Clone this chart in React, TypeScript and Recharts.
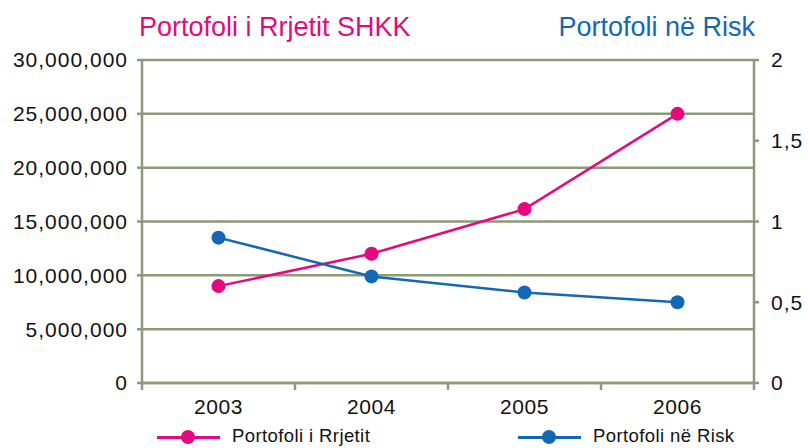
import React from 'react';
import { LineChart, Line, XAxis, YAxis, CartesianGrid } from 'recharts';

const years = ['2003', '2004', '2005', '2006'];
const portfoliRrjetit = [9000000, 12000000, 16150000, 25000000];
const portfoliRisk = [0.9, 0.66, 0.56, 0.5];
const leftTicks = [0, 5000000, 10000000, 15000000, 20000000, 25000000, 30000000];
const rightTicks = [0, 0.5, 1, 1.5, 2];

const data = years.map((year, i) => ({
  year,
  rrjetit: portfoliRrjetit[i],
  risk: portfoliRisk[i],
}));

const W = 808;
const H = 448;
const LEFT_W = 142;
const RIGHT_W = 54;
const PINK = '#e5097f';
const BLUE = '#1468b3';
const AXIS = '#8a9b78';
const FONT = '"Liberation Sans", Arial, sans-serif';

// each year gets one band; points sit in the middle of it
const band = (W - LEFT_W - RIGHT_W) / years.length;

const fmtLeft = (v: number) => v.toLocaleString('en-US');
const fmtRight = (v: number) => String(v).replace('.', ',');

function XTick(props: any) {
  const { x, y, payload, index } = props;
  const half = band / 2;
  return (
    <g>
      <line x1={x - half} x2={x - half} y1={y} y2={y + 7} stroke={AXIS} strokeWidth={2.5} />
      {index === years.length - 1 && (
        <line x1={x + half} x2={x + half} y1={y} y2={y + 7} stroke={AXIS} strokeWidth={2.5} />
      )}
      <text x={x} y={y + 31} textAnchor="middle" fill="#111" fontSize={21} letterSpacing={0.6} fontFamily={FONT}>
        {payload.value}
      </text>
    </g>
  );
}

function LegendItem({ color, label, left }: { color: string; label: string; left: number }) {
  return (
    <div style={{ position: 'absolute', left, top: 427, height: 20 }}>
      <div style={{ position: 'absolute', left: 0, top: 8.5, width: 63, height: 3, background: color }} />
      <div style={{ position: 'absolute', left: 24, top: 3, width: 14, height: 14, borderRadius: 7, background: color }} />
      <div
        style={{
          position: 'absolute',
          left: 75,
          top: 0,
          whiteSpace: 'nowrap',
          fontFamily: FONT,
          fontSize: 18.5,
          lineHeight: 1,
          letterSpacing: 0.4,
          color: '#111',
        }}
      >
        {label}
      </div>
    </div>
  );
}

export default function App() {
  return (
    <div style={{ position: 'absolute', left: 0, top: 0, width: W, height: H, background: '#fff' }}>
      <div
        style={{
          position: 'absolute',
          left: 139,
          top: 14,
          fontFamily: FONT,
          fontSize: 27,
          lineHeight: 1,
          color: PINK,
          whiteSpace: 'nowrap',
        }}
      >
        Portofoli i Rrjetit SHKK
      </div>
      <div
        style={{
          position: 'absolute',
          right: 53,
          top: 14,
          fontFamily: FONT,
          fontSize: 27,
          lineHeight: 1,
          color: BLUE,
          whiteSpace: 'nowrap',
        }}
      >
        Portofoli në Risk
      </div>
      <LineChart width={W} height={H} data={data} margin={{ top: 60, right: 0, bottom: 0, left: 0 }}>
        <CartesianGrid yAxisId="left" vertical={false} stroke={AXIS} strokeWidth={2.5} ticks={leftTicks} />
        <XAxis
          dataKey="year"
          height={H - 383}
          padding={{ left: band / 2, right: band / 2 }}
          axisLine={{ stroke: AXIS, strokeWidth: 2.5 }}
          tickLine={false}
          tickSize={0}
          tickMargin={0}
          tick={<XTick />}
          interval={0}
        />
        <YAxis
          yAxisId="left"
          width={LEFT_W}
          domain={[0, 30000000]}
          ticks={leftTicks}
          tickFormatter={fmtLeft}
          axisLine={{ stroke: AXIS, strokeWidth: 2.5 }}
          tickLine={{ stroke: AXIS, strokeWidth: 2.5 }}
          tickSize={5}
          tickMargin={9}
          tick={{ fill: '#111', fontSize: 21, fontFamily: FONT, letterSpacing: 1 }}
          interval={0}
        />
        <YAxis
          yAxisId="right"
          orientation="right"
          width={RIGHT_W}
          domain={[0, 2]}
          ticks={rightTicks}
          tickFormatter={fmtRight}
          axisLine={{ stroke: AXIS, strokeWidth: 2.5 }}
          tickLine={{ stroke: AXIS, strokeWidth: 2.5 }}
          tickSize={5}
          tickMargin={12}
          tick={{ fill: '#111', fontSize: 21, fontFamily: FONT, letterSpacing: 1 }}
          interval={0}
        />
        <Line
          yAxisId="left"
          dataKey="rrjetit"
          stroke={PINK}
          strokeWidth={2.5}
          dot={{ r: 7, fill: PINK, stroke: PINK, strokeWidth: 0 }}
          activeDot={false}
          isAnimationActive={false}
        />
        <Line
          yAxisId="right"
          dataKey="risk"
          stroke={BLUE}
          strokeWidth={2.5}
          dot={{ r: 7, fill: BLUE, stroke: BLUE, strokeWidth: 0 }}
          activeDot={false}
          isAnimationActive={false}
        />
      </LineChart>
      <LegendItem color={PINK} label="Portofoli i Rrjetit" left={157} />
      <LegendItem color={BLUE} label="Portofoli në Risk" left={518} />
    </div>
  );
}
